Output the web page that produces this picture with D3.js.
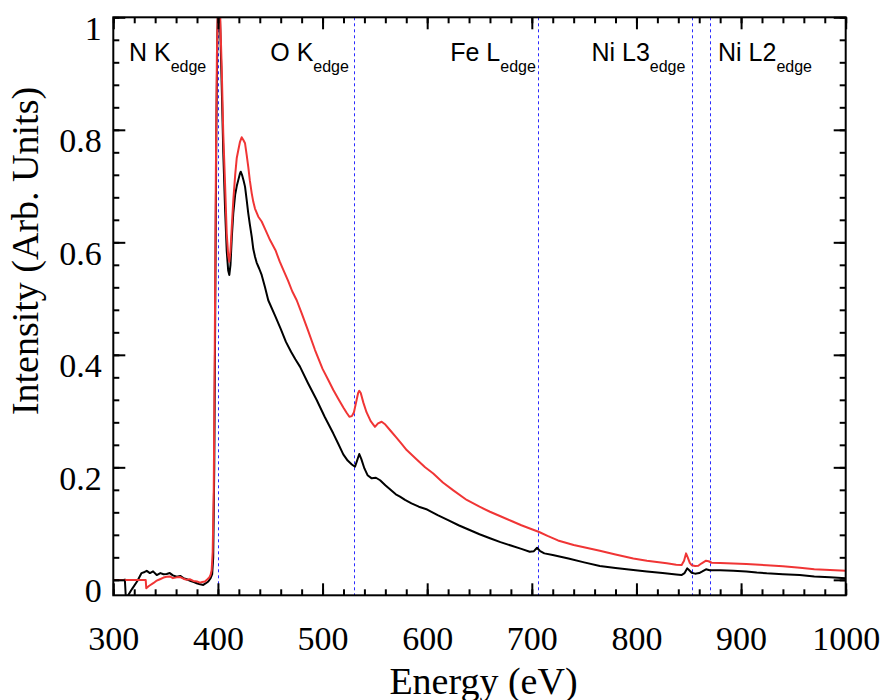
<!DOCTYPE html>
<html>
<head>
<meta charset="utf-8">
<script src="https://cdn.jsdelivr.net/npm/d3@7"></script>
<style>
  body { margin: 0; background: #fff; }
  svg { display: block; }
</style>
</head>
<body>
<div id="chart"></div>
<script>
/* spectra: energy (eV) and intensity (arb. units) */
const blackE = [311, 312, 313, 318, 323, 327, 330, 332, 335, 338, 341.5, 345, 348, 351, 354, 357, 360.6, 364, 367, 370.2,
  374, 377, 379.7, 383, 386, 388.5, 390.8, 393, 394.5, 395.5, 396.5, 397.5, 398.5, 399.5, 400.5, 401.5, 402.5, 403.6,
  405.1, 406.8, 408.4, 409.8, 410.9, 412, 413.3, 414.7, 416.5, 418, 419.5, 421, 421.8, 423, 424.5, 425.9, 427.5, 429,
  430.5, 432.3, 433.8, 435.5, 437, 439.5, 441.8, 445, 448.1, 455, 460, 465, 470, 474, 478.4, 486, 494.4, 502, 510.3,
  515, 519.8, 524, 528, 531, 533, 535.1, 537, 540, 543, 547, 551, 555, 560, 565, 570, 574, 578.8, 585, 592, 600, 610,
  620, 630, 640, 650, 660, 670, 680, 690, 698, 702, 705, 708, 712, 720, 735, 750, 765, 780, 797, 810, 825, 838, 843,
  846, 848.6, 850.5, 852.8, 856, 860, 863, 866.5, 870, 880, 892.6, 905, 915, 924.5, 940, 956, 970, 985, 1000];
const blackI = [0.002, -0.032, -0.031, -0.016, -0.002, 0.012, 0.014, 0.016, 0.012, 0.015, 0.0085, 0.012, 0.010, 0.0103,
  0.012, 0.008, 0.0055, 0.007, 0.003, 0.001, -0.002, -0.004, -0.006, -0.008, -0.009, -0.006, -0.003, 0.003, 0.01, 0.04,
  0.2, 0.5, 0.8, 0.97, 1.04, 1.03, 0.96, 0.88, 0.76, 0.66, 0.585, 0.55, 0.542, 0.56, 0.61, 0.652, 0.685, 0.70, 0.711,
  0.722, 0.7255, 0.72, 0.71, 0.699, 0.675, 0.6516, 0.632, 0.610, 0.588, 0.574, 0.564, 0.553, 0.542, 0.520, 0.497,
  0.468, 0.446, 0.423, 0.405, 0.392, 0.379, 0.350, 0.3196, 0.29, 0.260, 0.242, 0.223, 0.212, 0.205, 0.201, 0.212,
  0.2236, 0.215, 0.198, 0.186, 0.1804, 0.1815, 0.177, 0.168, 0.16, 0.152, 0.148, 0.142, 0.136, 0.13, 0.125, 0.115,
  0.106, 0.097, 0.089, 0.081, 0.074, 0.067, 0.061, 0.055, 0.050, 0.051, 0.057, 0.051, 0.047, 0.044, 0.038, 0.031,
  0.0245, 0.021, 0.0174, 0.015, 0.012, 0.0095, 0.0085, 0.012, 0.0204, 0.017, 0.0126, 0.011, 0.012, 0.015, 0.0187,
  0.017, 0.0172, 0.0162, 0.015, 0.013, 0.0116, 0.010, 0.0085, 0.006, 0.0045, 0.0027];

const redE = [300, 331, 331.5, 334, 338.2, 341, 344.6, 348, 351, 354, 357, 360.6, 364, 367, 370.2, 373, 376.5, 380,
  382.9, 385, 387.6, 390, 391.8, 393, 394, 395, 396, 397, 398, 399, 400.3, 401.5, 402.5, 403.6, 405.1, 406.8, 408.4,
  409.8, 410.9, 412, 413.3, 414.7, 416.5, 418, 419.5, 421, 422.7, 424.3, 425.9, 427.5, 429, 430.5, 432.3, 433.8, 435.4,
  438.6, 441.8, 445, 449.8, 455, 459, 462.5, 467, 471, 475.3, 480, 486, 492.8, 500, 505, 510.3, 515, 520, 523, 525.6,
  528, 530, 532, 534, 535.1, 536.5, 539, 542, 546, 550.1, 553, 556.5, 560, 565, 570, 575, 580.4, 590, 598, 605.8, 615,
  625, 637.8, 650, 660, 670, 680, 690, 700, 707, 715, 725, 740, 752, 765, 780, 797, 810, 829, 838, 843.2, 845.5, 847.4,
  849, 851, 852.8, 856, 859.1, 862, 866.5, 869, 871.9, 880, 892.6, 905, 924.5, 940, 956.3, 970, 985, 1000];
const redI = [-0.0005, -0.0005, -0.015, -0.011, -0.006, -0.002, 0.001, 0.004, 0.0055, 0.006, 0.003, 0.0044, 0.005,
  0.002, 0.0, 0.001, -0.002, -0.003, -0.005, -0.004, -0.003, 0.001, 0.0044, 0.009, 0.017, 0.05, 0.16, 0.42, 0.72,
  0.93, 1.06, 1.05, 0.98, 0.912, 0.794, 0.705, 0.616, 0.577, 0.5655, 0.585, 0.63, 0.675, 0.72, 0.75, 0.764, 0.778,
  0.7867, 0.782, 0.776, 0.755, 0.734, 0.71, 0.687, 0.672, 0.660, 0.6455, 0.637, 0.624, 0.604, 0.586, 0.566, 0.551,
  0.532, 0.513, 0.497, 0.474, 0.444, 0.4085, 0.375, 0.357, 0.3374, 0.322, 0.306, 0.297, 0.29, 0.291, 0.298, 0.315,
  0.332, 0.336, 0.332, 0.315, 0.298, 0.282, 0.272, 0.278, 0.281, 0.276, 0.265, 0.254, 0.243, 0.2307, 0.214, 0.2,
  0.189, 0.173, 0.159, 0.142, 0.13, 0.121, 0.113, 0.105, 0.097, 0.090, 0.085, 0.078, 0.070, 0.062, 0.057, 0.0517,
  0.045, 0.038, 0.034, 0.0293, 0.027, 0.0263, 0.034, 0.047, 0.04, 0.03, 0.026, 0.0245, 0.025, 0.029, 0.034, 0.033,
  0.0304, 0.0298, 0.029, 0.028, 0.026, 0.024, 0.0215, 0.019, 0.0175, 0.016];

/* absorption edges */
const edgeE = [400, 530, 706, 853, 870];
const edgeNames = ["N K", "O K", "Fe L", "Ni L3", "Ni L2"];
const edgeLabelE = [315, 450, 622, 757, 878];

const xTicks = [300, 400, 500, 600, 700, 800, 900, 1000];
const yTicks = [0, 0.2, 0.4, 0.6, 0.8, 1];
const yTickLabels = ["0", "0.2", "0.4", "0.6", "0.8", "1"];

const W = 885;
const H = 700;
const pLeft = 113.3, pRight = 845.7, pTop = 17.3, pBottom = 595.3;

const x = d3.scaleLinear().domain([300, 1000]).range([pLeft, pRight]);
const y = d3.scaleLinear().domain([-0.0275, 1]).range([pBottom, pTop]);

const svg = d3.select("#chart").append("svg")
  .attr("width", W)
  .attr("height", H);

svg.append("clipPath")
  .attr("id", "plot-clip")
  .append("rect")
  .attr("x", pLeft)
  .attr("y", pTop)
  .attr("width", pRight - pLeft)
  .attr("height", pBottom - pTop);

const plot = svg.append("g").attr("clip-path", "url(#plot-clip)");

// dotted edge markers, snapped to the pixel grid so they stay crisp
plot.selectAll("line.edge")
  .data(edgeE)
  .enter()
  .append("line")
  .attr("class", "edge")
  .attr("x1", d => Math.round(x(d)) + 0.5)
  .attr("x2", d => Math.round(x(d)) + 0.5)
  .attr("y1", pTop)
  .attr("y2", pBottom)
  .attr("stroke", "#2a2aff")
  .attr("stroke-width", 1)
  .attr("stroke-dasharray", "3,3");

const line = d3.line()
  .x(d => x(d[0]))
  .y(d => y(d[1]));

plot.append("path")
  .datum(d3.zip(blackE, blackI))
  .attr("d", line)
  .attr("fill", "none")
  .attr("stroke", "#000")
  .attr("stroke-width", 2)
  .attr("stroke-linejoin", "round");

plot.append("path")
  .datum(d3.zip(redE, redI))
  .attr("d", line)
  .attr("fill", "none")
  .attr("stroke", "#f03535")
  .attr("stroke-width", 2)
  .attr("stroke-linejoin", "round");

// axes, ticks pointing inward on all four sides
const xMinor = d3.range(300, 1001, 20);
const yMinor = d3.range(0, 1.001, 0.04);

function styleAxis(g) {
  g.select(".domain").remove();
  g.selectAll(".tick line").attr("stroke", "#000").attr("stroke-width", 2);
  g.selectAll("text")
    .attr("font-family", "'Liberation Serif', 'Times New Roman', serif")
    .attr("font-size", 34)
    .attr("fill", "#000");
}

svg.append("g")
  .attr("transform", `translate(0,${pBottom})`)
  .call(d3.axisBottom(x).tickValues(xMinor).tickSize(-6).tickFormat(""))
  .call(styleAxis);
svg.append("g")
  .attr("transform", `translate(0,${pBottom})`)
  .call(d3.axisBottom(x).tickValues(xTicks).tickSize(-12).tickPadding(31).tickFormat(d3.format("d")))
  .call(styleAxis);
svg.append("g")
  .attr("transform", `translate(0,${pTop})`)
  .call(d3.axisTop(x).tickValues(xMinor).tickSize(-6).tickFormat(""))
  .call(styleAxis);
svg.append("g")
  .attr("transform", `translate(0,${pTop})`)
  .call(d3.axisTop(x).tickValues(xTicks).tickSize(-12).tickFormat(""))
  .call(styleAxis);

svg.append("g")
  .attr("transform", `translate(${pLeft},0)`)
  .call(d3.axisLeft(y).tickValues(yMinor).tickSize(-6).tickFormat(""))
  .call(styleAxis);
svg.append("g")
  .attr("transform", `translate(${pLeft},0)`)
  .call(d3.axisLeft(y).tickValues(yTicks).tickSize(-12).tickPadding(11.6)
    .tickFormat((d, i) => yTickLabels[i]))
  .call(styleAxis)
  .selectAll("text")
  .attr("dy", "0.65em");
svg.append("g")
  .attr("transform", `translate(${pRight},0)`)
  .call(d3.axisRight(y).tickValues(yMinor).tickSize(-6).tickFormat(""))
  .call(styleAxis);
svg.append("g")
  .attr("transform", `translate(${pRight},0)`)
  .call(d3.axisRight(y).tickValues(yTicks).tickSize(-12).tickFormat(""))
  .call(styleAxis);

svg.append("rect")
  .attr("x", pLeft)
  .attr("y", pTop)
  .attr("width", pRight - pLeft)
  .attr("height", pBottom - pTop)
  .attr("fill", "none")
  .attr("stroke", "#000")
  .attr("stroke-width", 2);

// edge labels
const labels = svg.append("g")
  .attr("font-family", "'Liberation Sans', Arial, sans-serif")
  .attr("fill", "#000");
edgeNames.forEach((name, i) => {
  const t = labels.append("text")
    .attr("x", x(edgeLabelE[i]))
    .attr("y", 61)
    .attr("font-size", 25);
  t.append("tspan").text(name);
  t.append("tspan")
    .attr("font-size", 16)
    .attr("dy", 10.7)
    .text("edge");
});

// axis titles
svg.append("text")
  .attr("x", (pLeft + pRight) / 2 + 4)
  .attr("y", 694)
  .attr("text-anchor", "middle")
  .attr("font-family", "'Liberation Serif', 'Times New Roman', serif")
  .attr("font-size", 38)
  .text("Energy (eV)");

svg.append("text")
  .attr("transform", "translate(38,251) rotate(-90)")
  .attr("text-anchor", "middle")
  .attr("font-family", "'Liberation Serif', 'Times New Roman', serif")
  .attr("font-size", 38)
  .text("Intensity (Arb. Units)");
</script>
</body>
</html>
